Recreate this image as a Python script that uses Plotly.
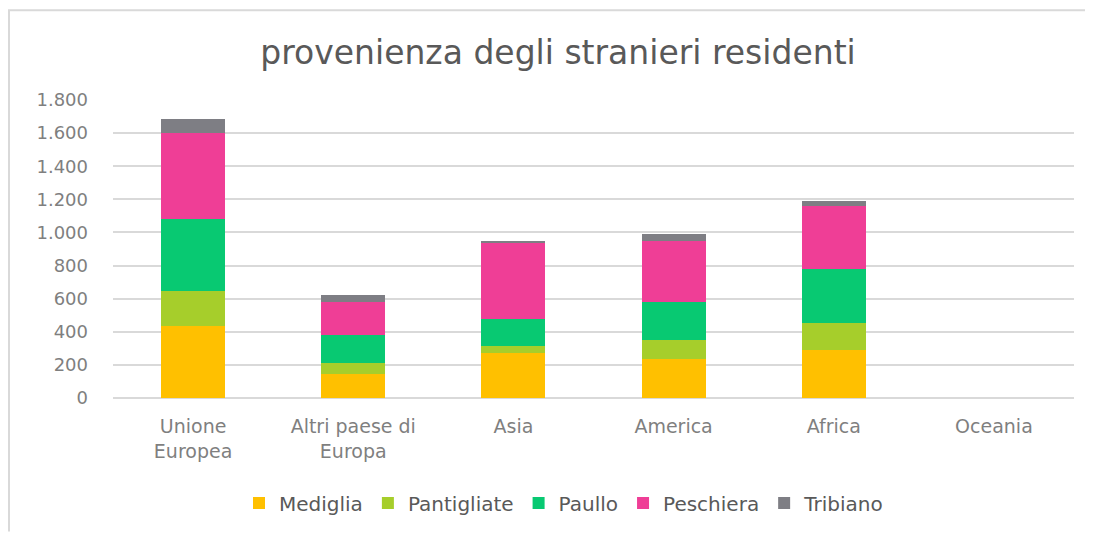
import plotly.graph_objects as go

categories = ["Unione<br>Europea", "Altri paese di<br>Europa", "Asia", "America", "Africa", "Oceania"]
mediglia = [436, 147, 269, 235, 291, 0]
pantigliate = [211, 66, 45, 113, 165, 0]
paullo = [432, 169, 166, 233, 324, 0]
peschiera = [523, 199, 459, 366, 380, 0]
tribiano = [86, 42, 6, 46, 32, 0]

series_names = ["Mediglia", "Pantigliate", "Paullo", "Peschiera", "Tribiano"]
series_values = [mediglia, pantigliate, paullo, peschiera, tribiano]
colors = ["#FFC000", "#A6CE2B", "#08C972", "#EF3E96", "#7E7E84"]

fig = go.Figure()
for name, vals, col in zip(series_names, series_values, colors):
    fig.add_trace(go.Bar(x=categories, y=vals, name=name, marker=dict(color=col, line=dict(width=0))))

# page is rendered with an 8px body margin
OFF = 8
W, H = 1085, 525
ml, mr, mt, mb = 105, 19, 92, 134
pw = W - ml - mr
ph = H - mt - mb

def px_x(x):
    return (x - OFF - ml) / pw

def px_y(y):
    return (H - mb - (y - OFF)) / ph

fig.update_layout(
    width=W, height=H,
    margin=dict(l=ml, r=mr, t=mt, b=mb),
    barmode="stack",
    bargap=0.6,
    paper_bgcolor="white",
    plot_bgcolor="white",
    separators=",.",
    title=dict(text="provenienza degli stranieri residenti", x=(558 - OFF) / W, xref="container", xanchor="center",
               y=1 - (52 - OFF) / H, yref="container", yanchor="middle",
               font=dict(family="DejaVu Sans", size=33, color="#595959")),
    font=dict(family="DejaVu Sans", color="#7F7F7F"),
    xaxis=dict(showgrid=False, showline=False, ticks="", ticklabelstandoff=15,
               tickfont=dict(family="DejaVu Sans", size=19, color="#7F7F7F")),
    yaxis=dict(range=[0, 1800], dtick=200, tickformat=",", showgrid=True, gridcolor="#D9D9D9", gridwidth=1.5,
               zeroline=True, zerolinecolor="#D9D9D9", zerolinewidth=1.5, showline=False,
               tickfont=dict(family="DejaVu Sans", size=18, color="#7F7F7F"), ticklabelstandoff=24),
    legend=dict(orientation="h", x=px_x(564), xanchor="center", y=px_y(503), yanchor="middle",
                font=dict(family="DejaVu Sans", size=20, color="#595959"), traceorder="normal"),
    shapes=[
        dict(type="line", xref="paper", yref="paper", x0=px_x(8), x1=px_x(1093), y0=px_y(10), y1=px_y(10),
             line=dict(color="#D9D9D9", width=2)),
        dict(type="line", xref="paper", yref="paper", x0=px_x(9), x1=px_x(9), y0=px_y(10), y1=px_y(533),
             line=dict(color="#D9D9D9", width=2)),
    ],
)

fig.write_html("out.html")
